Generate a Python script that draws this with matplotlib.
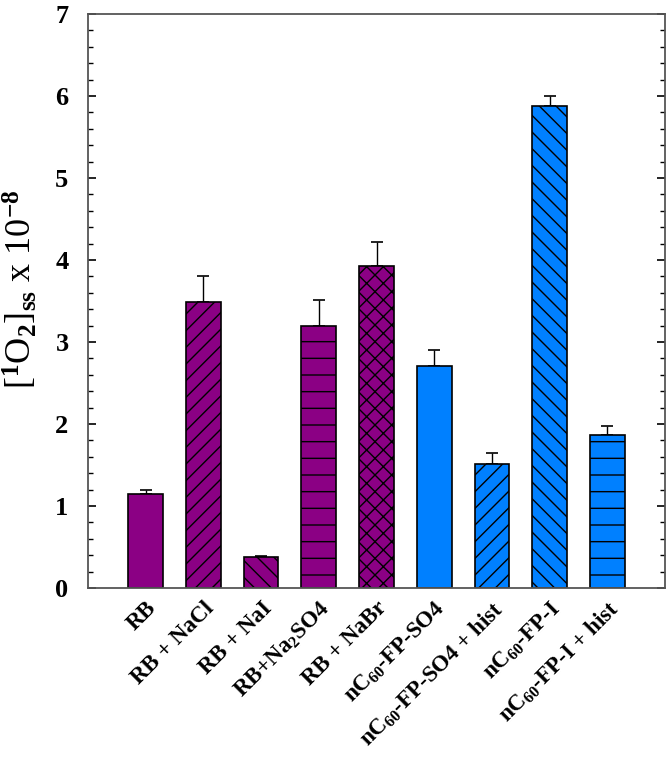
import matplotlib
matplotlib.use('Agg')
import matplotlib.pyplot as plt
import numpy as np

# Bar labels, heights and upper error bars.
labels = ['RB', 'RB + NaCl', 'RB + NaI', r'RB+Na$_2$SO4', 'RB + NaBr',
          r'nC$_{60}$-FP-SO4', r'nC$_{60}$-FP-SO4 + hist', r'nC$_{60}$-FP-I', r'nC$_{60}$-FP-I + hist']
values = [1.15, 3.49, 0.38, 3.20, 3.93, 2.71, 1.51, 5.88, 1.86]
errors = [0.04, 0.31, 0.01, 0.31, 0.29, 0.19, 0.14, 0.12, 0.12]
hatches = ['', '//', '\\\\', '-', 'xx', '', '//', '\\\\', '-']
purple, blue = '#8B0084', '#0080FF'
colors = [purple] * 5 + [blue] * 4

plt.rcParams['font.family'] = 'Liberation Serif'
plt.rcParams['font.weight'] = 'bold'
plt.rcParams['mathtext.fontset'] = 'custom'
plt.rcParams['mathtext.rm'] = 'Liberation Serif:bold'
plt.rcParams['mathtext.it'] = 'Liberation Serif:bold'
plt.rcParams['mathtext.bf'] = 'Liberation Serif:bold'
plt.rcParams['mathtext.default'] = 'rm'
plt.rcParams['hatch.linewidth'] = 1.0
plt.rcParams['hatch.color'] = 'black'

fig = plt.figure(figsize=(6.66, 7.58), dpi=100)
ax = fig.add_axes([88 / 666, 1 - 588 / 758, 577 / 666, 574 / 758])

x = np.arange(len(values))
bars = ax.bar(x, values, 0.6, color=colors, edgecolor='black', linewidth=1.2, zorder=2)
for b, h in zip(bars, hatches):
    b.set_hatch(h)
ax.errorbar(x, values, yerr=[np.zeros(len(errors)), errors], fmt='none', ecolor='black',
            elinewidth=1.0, capsize=4.5, capthick=1.2, zorder=1)

ax.set_xlim(-1, 9)
ax.set_ylim(0, 7)
ax.set_yticks(range(8))
ax.set_yticks(np.arange(0, 7.01, 0.2), minor=True)
ax.tick_params(axis='y', which='both', direction='in', left=True, right=True, labelsize=19)
ax.tick_params(axis='y', which='major', length=6, width=1.2)
ax.tick_params(axis='y', which='minor', length=3.5, width=1.0)
ax.tick_params(axis='y', pad=14)
ax.set_xticks(x)
ax.set_xticklabels(labels, rotation=45, ha='right', rotation_mode='anchor', fontsize=16.5)
ax.tick_params(axis='x', length=0, pad=7)

for s in ax.spines.values():
    s.set_color('#555555')
    s.set_linewidth(1.3)

ax.set_ylabel(r'[$^1$O$_2$]$_{ss}$ x 10$^{-8}$', fontsize=26)
ax.yaxis.set_label_coords(-0.083, 0.52)

fig.savefig('out.png', dpi=100)
